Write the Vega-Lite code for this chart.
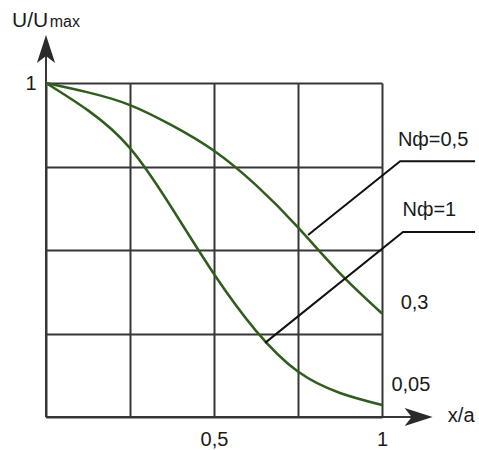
{
  "$schema": "https://vega.github.io/schema/vega-lite/v6.json",
  "width": 336,
  "height": 334,
  "autosize": {"type": "none"},
  "padding": {"left": 46, "top": 83, "right": 97, "bottom": 33},
  "background": "white",
  "config": {"view": {"stroke": null}, "font": "Liberation Sans"},
  "datasets": {
    "curves": [
      {"series": "0,5", "x": 0, "y": 1},
      {"series": "0,5", "x": 0.125, "y": 0.972},
      {"series": "0,5", "x": 0.25, "y": 0.934},
      {"series": "0,5", "x": 0.375, "y": 0.873},
      {"series": "0,5", "x": 0.5, "y": 0.797},
      {"series": "0,5", "x": 0.625, "y": 0.694},
      {"series": "0,5", "x": 0.75, "y": 0.568},
      {"series": "0,5", "x": 0.875, "y": 0.43},
      {"series": "0,5", "x": 1, "y": 0.31},
      {"series": "1", "x": 0, "y": 1},
      {"series": "1", "x": 0.125, "y": 0.918},
      {"series": "1", "x": 0.25, "y": 0.805},
      {"series": "1", "x": 0.375, "y": 0.625},
      {"series": "1", "x": 0.5, "y": 0.428},
      {"series": "1", "x": 0.625, "y": 0.258},
      {"series": "1", "x": 0.75, "y": 0.136},
      {"series": "1", "x": 0.875, "y": 0.072},
      {"series": "1", "x": 1, "y": 0.036}
    ],
    "leaders": [
      {"id": "a", "x": 0.78, "y": 0.545},
      {"id": "a", "x": 1.054, "y": 0.766},
      {"id": "a", "x": 1.277, "y": 0.766},
      {"id": "b", "x": 0.652, "y": 0.222},
      {"id": "b", "x": 1.0625, "y": 0.554},
      {"id": "b", "x": 1.277, "y": 0.554}
    ],
    "axislines": [
      {"x": 0, "y": 0, "x2": 1.1, "y2": 0},
      {"x": 0, "y": 0, "x2": 0, "y2": 1.09}
    ],
    "arrowUp": [{"x": 0, "y": 1.102}],
    "arrowRight": [{"x": 1.109, "y": 0}],
    "labels": [
      {"x": 1.152, "y": 0.829, "label": "Nф=0,5"},
      {"x": 1.141, "y": 0.62, "label": "Nф=1"},
      {"x": 1.097, "y": 0.341, "label": "0,3"},
      {"x": 1.086, "y": 0.096, "label": "0,05"}
    ],
    "xtitle": [{"x": 1.196, "y": 0.003, "label": "x/a"}],
    "ytitleBig": [{"x": -0.101, "y": 1.168, "label": "U/U"}],
    "ytitleSmall": [{"x": 0.011, "y": 1.168, "label": "max"}]
  },
  "encoding": {
    "x": {
      "field": "x", "type": "quantitative",
      "scale": {"domain": [0, 1], "nice": false, "zero": false},
      "axis": {
        "values": [0, 0.25, 0.5, 0.75, 1],
        "grid": true, "gridColor": "#363636", "gridWidth": 2, "gridOpacity": 1,
        "domain": false, "ticks": false,
        "labelExpr": "datum.value == 0.5 ? '0,5' : (datum.value == 1 ? '1' : '')",
        "labelFontSize": 20, "labelColor": "#1a1a1a", "labelPadding": 12,
        "labelOverlap": false, "labelFlush": false, "labelFont": "Liberation Sans",
        "title": null
      }
    },
    "y": {
      "field": "y", "type": "quantitative",
      "scale": {"domain": [0, 1], "nice": false, "zero": false},
      "axis": {
        "values": [0, 0.25, 0.5, 0.75, 1],
        "grid": true, "gridColor": "#363636", "gridWidth": 2, "gridOpacity": 1,
        "domain": false, "ticks": false,
        "labelExpr": "datum.value == 1 ? '1' : ''",
        "labelFontSize": 20, "labelColor": "#1a1a1a", "labelPadding": 10,
        "labelOverlap": false, "labelFlush": false, "labelFont": "Liberation Sans",
        "title": null
      }
    }
  },
  "layer": [
    {
      "data": {"name": "axislines"},
      "mark": {"type": "rule", "color": "#363636", "strokeWidth": 2},
      "encoding": {"x2": {"field": "x2"}, "y2": {"field": "y2"}}
    },
    {
      "data": {"name": "arrowUp"},
      "mark": {"type": "point", "filled": true, "color": "#2a2a2a", "opacity": 1, "size": 784,
               "shape": "M0,-1 L0.65,1 L0,0.5 L-0.65,1 Z"},
      "encoding": {}
    },
    {
      "data": {"name": "arrowRight"},
      "mark": {"type": "point", "filled": true, "color": "#2a2a2a", "opacity": 1, "size": 784,
               "shape": "M1,0 L-1,0.65 L-0.5,0 L-1,-0.65 Z"},
      "encoding": {}
    },
    {
      "data": {"name": "curves"},
      "mark": {"type": "line", "color": "#2f5d1e", "strokeWidth": 2.5, "interpolate": "natural"},
      "encoding": {"detail": {"field": "series"}}
    },
    {
      "data": {"name": "leaders"},
      "mark": {"type": "line", "color": "#111111", "strokeWidth": 2},
      "encoding": {"detail": {"field": "id"}}
    },
    {
      "data": {"name": "labels"},
      "mark": {"type": "text", "fontSize": 20, "color": "#1a1a1a", "align": "center", "baseline": "middle"},
      "encoding": {"text": {"field": "label"}}
    },
    {
      "data": {"name": "xtitle"},
      "mark": {"type": "text", "fontSize": 20, "color": "#1a1a1a", "align": "left", "baseline": "middle"},
      "encoding": {"text": {"field": "label"}}
    },
    {
      "data": {"name": "ytitleBig"},
      "mark": {"type": "text", "fontSize": 21, "color": "#1a1a1a", "align": "left", "baseline": "alphabetic"},
      "encoding": {"text": {"field": "label"}}
    },
    {
      "data": {"name": "ytitleSmall"},
      "mark": {"type": "text", "fontSize": 16, "color": "#1a1a1a", "align": "left", "baseline": "alphabetic"},
      "encoding": {"text": {"field": "label"}}
    }
  ]
}
